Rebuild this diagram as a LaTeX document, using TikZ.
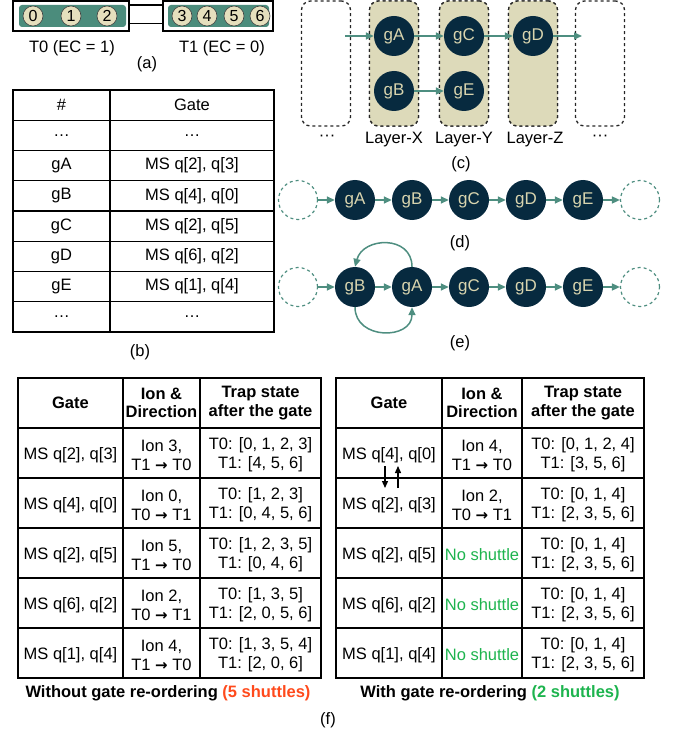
\documentclass[tikz,border=0pt]{standalone}
\usepackage{fontspec}
\setmainfont{Liberation Sans}
\newfontfamily\arrowfont{DejaVu Sans}
\usepackage{xcolor}
\definecolor{navy}{HTML}{072A3F}
\definecolor{gatetext}{HTML}{D8D4AE}
\definecolor{sand}{HTML}{DDDABA}
\definecolor{edgeteal}{HTML}{4E8E80}
\definecolor{trapgreen}{HTML}{4B8C7C}
\definecolor{ionfill}{HTML}{E5DFBD}
\definecolor{shutred}{HTML}{FF4A1C}
\definecolor{shutgreen}{HTML}{1DB44E}
\usetikzlibrary{arrows.meta,positioning}
\newcommand{\dir}{{\arrowfont\bfseries\fontsize{15}{15}\selectfont →}}
\newcommand{\hdots}{\textperiodcentered\textperiodcentered\textperiodcentered}

\begin{document}
\begin{tikzpicture}[x=1pt, y=-1pt,
  every node/.style={font=\fontsize{16.5}{19}\selectfont},
  head/.style={font=\fontsize{16.5}{18.5}\selectfont\bfseries, align=center},
  cell/.style={align=center},
  trapbox/.style={draw=black, line width=1.5pt, fill=white, minimum height=30pt, inner sep=0pt},
  trapbar/.style={fill=trapgreen, rounded corners=3pt, minimum height=22pt, inner sep=0pt},
  ion/.style={circle, draw=black!75, line width=0.6pt, fill=ionfill, minimum size=20pt, inner sep=0pt, font=\fontsize{16}{16}\selectfont},
  gate/.style={circle, fill=navy, text=gatetext, minimum size=40pt, inner sep=0pt, font=\fontsize{17}{17}\selectfont},
  layerbox/.style={draw=black!85, dashed, line width=1.3pt, rounded corners=9pt, minimum width=49pt, minimum height=125pt, inner sep=0pt},
  ghost/.style={circle, draw=edgeteal, dashed, line width=1.2pt, minimum size=39pt, inner sep=0pt},
  flow/.style={draw=edgeteal, line width=1.5pt, -{Triangle[length=8pt,width=7pt]}},
  swap/.style={draw=black, line width=1.3pt, -{Triangle[length=7pt,width=6pt]}},
  rule/.style={line width=1.2pt}]
\useasboundingbox (0,0) rectangle (678,735);

% (a)
\node[trapbox, minimum width=116pt] (t0box) at (71,16) {};
\node[trapbar, minimum width=107pt] (t0bar) at (72.5,16) {};
\node[trapbox, minimum width=110pt] (t1box) at (218,16) {};
\node[trapbar, minimum width=101pt] (t1bar) at (218.5,16) {};
\foreach \i/\x in {0/33,1/71,2/107,3/182,4/207,5/234,6/260}
  \node[ion] (ion\i) at (\x,16) {\i};
\draw[line width=1.5pt] ([yshift=-5pt]t0box.north east) -- ([yshift=-5pt]t1box.north west);
\draw[line width=1.5pt] ([yshift=8pt]t0box.south east) -- ([yshift=8pt]t1box.south west);
\node (t0lab) at (72,48) {T0 (EC = 1)};
\node (t1lab) at (222,48) {T1 (EC = 0)};
\node (capa) at (147,64) {(a)};

% (b)
\draw[rule] (13,90) rectangle (274,332);
\draw[rule] (110,90) -- (110,332);
\foreach \k in {1,...,7}
  \draw[rule] (13,90+30.25*\k) -- (274,90+30.25*\k);
\foreach \n/\g [count=\k from 0] in {{\#}/Gate, …/…, gA/{MS q[2], q[3]}, gB/{MS q[4], q[0]},
    gC/{MS q[2], q[5]}, gD/{MS q[6], q[2]}, gE/{MS q[1], q[4]}, …/…}{
  \node (bnum\k) at (61.5,105+30.25*\k) {\n};
  \node (bgate\k) at (192,105+30.25*\k) {\g};
}
\node (capb) at (140,352) {(b)};

% (c)
\foreach \x/\nm in {326/lay0,394/layx,464/layy,533/layz,600/lay4}
  \node[layerbox] (\nm) at (\x,63.5) {};
\foreach \nm in {layx,layy,layz}
  \node[layerbox, fill=sand] at (\nm) {};
\node[gate] (cA) at (394,36) {gA};
\node[gate] (cB) at (394,91) {gB};
\node[gate] (cC) at (464,36) {gC};
\node[gate] (cE) at (464,91) {gE};
\node[gate] (cD) at (533,36) {gD};
\coordinate (cin) at (345,36);
\coordinate (cout) at (582,36);
\draw[flow] (cin) -- (cA);
\draw[flow] (cA) -- (cC);
\draw[flow] (cC) -- (cD);
\draw[flow] (cD) -- (cout);
\draw[flow] (cB) -- (cE);
\node (dots0) at (327,138) {\hdots};
\node (labx) at (394,140) {Layer-X};
\node (laby) at (464,140) {Layer-Y};
\node (labz) at (535,140) {Layer-Z};
\node (dots4) at (600,138) {\hdots};
\node (capc) at (461,164) {(c)};

% (d)
\node[ghost] (dL) at (298,200) {};
\foreach \g/\x in {A/355,B/412,C/469,D/526,E/583}
  \node[gate] (d\g) at (\x,200) {g\g};
\node[ghost] (dR) at (640,200) {};
\draw[flow] (dL) -- (dA);
\draw[flow] (dA) -- (dB);
\draw[flow] (dB) -- (dC);
\draw[flow] (dC) -- (dD);
\draw[flow] (dD) -- (dE);
\draw[flow] (dE) -- (dR);
\node (capd) at (460,243) {(d)};

% (e)
\node[ghost] (eL) at (298,287) {};
\foreach \g/\x in {B/355,A/412,C/469,D/526,E/583}
  \node[gate] (e\g) at (\x,287) {g\g};
\node[ghost] (eR) at (640,287) {};
\draw[flow] (eL) -- (eB);
\draw[flow] (eB) -- (eA);
\draw[flow] (eA) -- (eC);
\draw[flow] (eC) -- (eD);
\draw[flow] (eD) -- (eE);
\draw[flow] (eE) -- (eR);
\draw[flow] (eA.north) .. controls +(0,-32) and +(8,-30) .. (eB.north);
\draw[flow] (eB.south) .. controls +(0,33) and +(0,33) .. (eA.south);
\node (cape) at (460,343) {(e)};

% (f) without re-ordering
\draw[rule] (18,378) rectangle (321,678);
\foreach \x in {123,200}
  \draw[rule] (\x,378) -- (\x,678);
\foreach \y in {428,478,...,628}
  \draw[rule] (18,\y) -- (321,\y);
\node[head] (lh1) at (70.5,403) {Gate};
\node[head] (lh2) at (161.5,403) {Ion \&\\Direction};
\node[head] (lh3) at (260.5,403) {Trap state\\after the gate};
\foreach \g/\i/\s [count=\k] in {
    {MS q[2], q[3]}/{Ion 3,\\T1 \dir{} T0}/{T0: [0, 1, 2, 3]\\T1: [4, 5, 6]},
    {MS q[4], q[0]}/{Ion 0,\\T0 \dir{} T1}/{T0: [1, 2, 3]\\T1: [0, 4, 5, 6]},
    {MS q[2], q[5]}/{Ion 5,\\T1 \dir{} T0}/{T0: [1, 2, 3, 5]\\T1: [0, 4, 6]},
    {MS q[6], q[2]}/{Ion 2,\\T0 \dir{} T1}/{T0: [1, 3, 5]\\T1: [2, 0, 5, 6]},
    {MS q[1], q[4]}/{Ion 4,\\T1 \dir{} T0}/{T0: [1, 3, 5, 4]\\T1: [2, 0, 6]}}{
  \node[cell] (lg\k) at (70.5,405+50*\k) {\g};
  \node[cell] (li\k) at (161.5,405+50*\k) {\i};
  \node[cell] (ls\k) at (260.5,405+50*\k) {\s};
}
\node[head] (capl) at (168,693) {Without gate re-ordering \textcolor{shutred}{(5 shuttles)}};

% (f) with re-ordering
\draw[rule] (336,378) rectangle (644,678);
\foreach \x in {442,522}
  \draw[rule] (\x,378) -- (\x,678);
\foreach \y in {428,478,...,628}
  \draw[rule] (336,\y) -- (644,\y);
\node[head] (rh1) at (389,403) {Gate};
\node[head] (rh2) at (482,403) {Ion \&\\Direction};
\node[head] (rh3) at (583,403) {Trap state\\after the gate};
\foreach \g/\i/\s [count=\k] in {
    {MS q[4], q[0]}/{Ion 4,\\T1 \dir{} T0}/{T0: [0, 1, 2, 4]\\T1: [3, 5, 6]},
    {MS q[2], q[3]}/{Ion 2,\\T0 \dir{} T1}/{T0: [0, 1, 4]\\T1: [2, 3, 5, 6]},
    {MS q[2], q[5]}/{\textcolor{shutgreen}{No shuttle}}/{T0: [0, 1, 4]\\T1: [2, 3, 5, 6]},
    {MS q[6], q[2]}/{\textcolor{shutgreen}{No shuttle}}/{T0: [0, 1, 4]\\T1: [2, 3, 5, 6]},
    {MS q[1], q[4]}/{\textcolor{shutgreen}{No shuttle}}/{T0: [0, 1, 4]\\T1: [2, 3, 5, 6]}}{
  \node[cell] (rg\k) at (389,405+50*\k) {\g};
  \node[cell] (ri\k) at (482,405+50*\k) {\i};
  \node[cell] (rs\k) at (583,405+50*\k) {\s};
}
\coordinate (swapa) at (385,466);
\coordinate (swapb) at (385,488);
\coordinate (swapc) at (398,488);
\coordinate (swapd) at (398,466);
\draw[swap] (swapa) -- (swapb);
\draw[swap] (swapc) -- (swapd);
\node[head] (capr) at (490,693) {With gate re-ordering \textcolor{shutgreen}{(2 shuttles)}};
\node (capf) at (328,720) {(f)};
\end{tikzpicture}
\end{document}
